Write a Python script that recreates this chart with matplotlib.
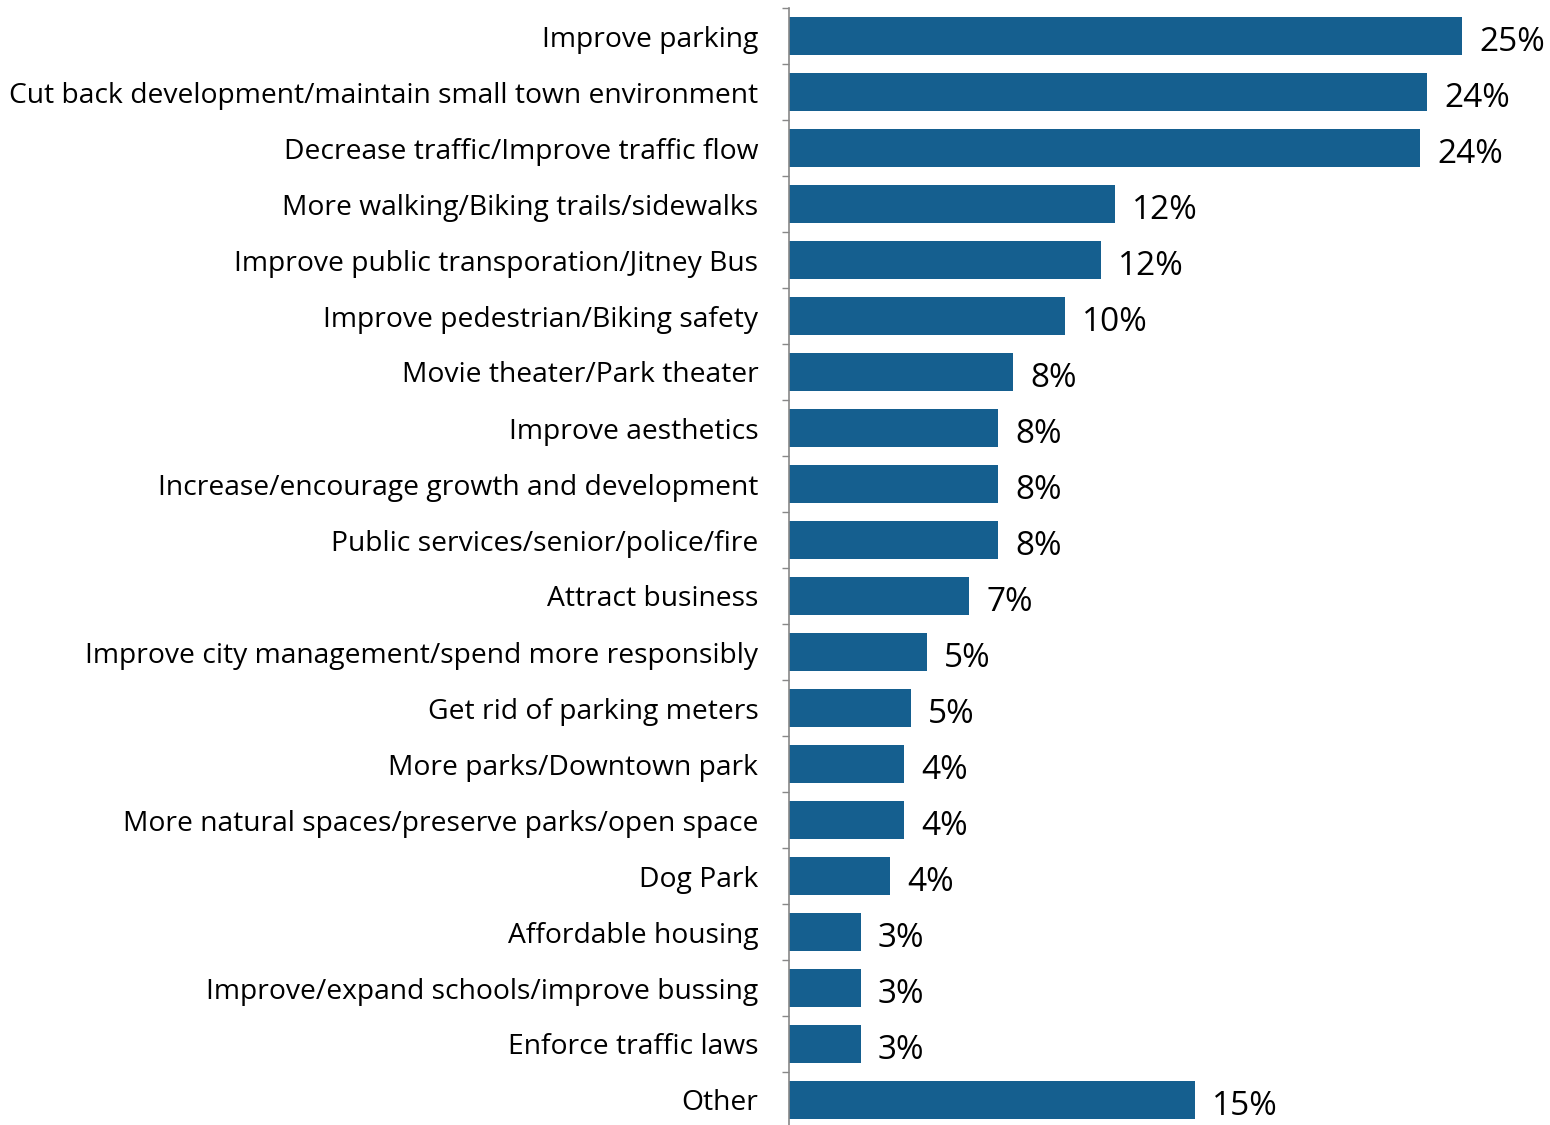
import matplotlib.pyplot as plt
import numpy as np

categories = [
    "Improve parking",
    "Cut back development/maintain small town environment",
    "Decrease traffic/Improve traffic flow",
    "More walking/Biking trails/sidewalks",
    "Improve public transporation/Jitney Bus",
    "Improve pedestrian/Biking safety",
    "Movie theater/Park theater",
    "Improve aesthetics",
    "Increase/encourage growth and development",
    "Public services/senior/police/fire",
    "Attract business",
    "Improve city management/spend more responsibly",
    "Get rid of parking meters",
    "More parks/Downtown park",
    "More natural spaces/preserve parks/open space",
    "Dog Park",
    "Affordable housing",
    "Improve/expand schools/improve bussing",
    "Enforce traffic laws",
    "Other",
]
values = [25.4, 24.05, 23.8, 12.3, 11.75, 10.4, 8.45, 7.9, 7.9, 7.9,
          6.8, 5.2, 4.6, 4.35, 4.35, 3.8, 2.7, 2.7, 2.7, 15.3]

plt.rcParams['font.family'] = ['Open Sans', 'DejaVu Sans']

fig = plt.figure(figsize=(15.5, 11.25), dpi=100)
ax = fig.add_axes([789 / 1550, -3 / 1125, 1 - 789 / 1550, 1120 / 1125])

y = np.arange(len(categories))
ax.barh(y, values, height=0.68, color='#155F8F')

for yi, v in zip(y, values):
    ax.text(v + 0.65, yi + 0.04, f"{v:.0f}%", va='center_baseline', ha='left', fontsize=24)

ax.set_xlim(0, 28.7)
ax.set_ylim(len(categories) - 0.5, -0.5)

ax.set_yticks(y)
ax.set_yticklabels(categories, fontsize=20.3)
ax.tick_params(axis='y', which='major', length=0, pad=22)
ax.set_yticks(np.arange(len(categories) + 1) - 0.5, minor=True)
ax.tick_params(axis='y', which='minor', length=5, width=1, color='#888888')
ax.set_xticks([])

for s in ['top', 'right', 'bottom']:
    ax.spines[s].set_visible(False)
ax.spines['left'].set_color('#888888')
ax.spines['left'].set_linewidth(1.2)

plt.savefig('out.png', dpi=100)
plt.close()
